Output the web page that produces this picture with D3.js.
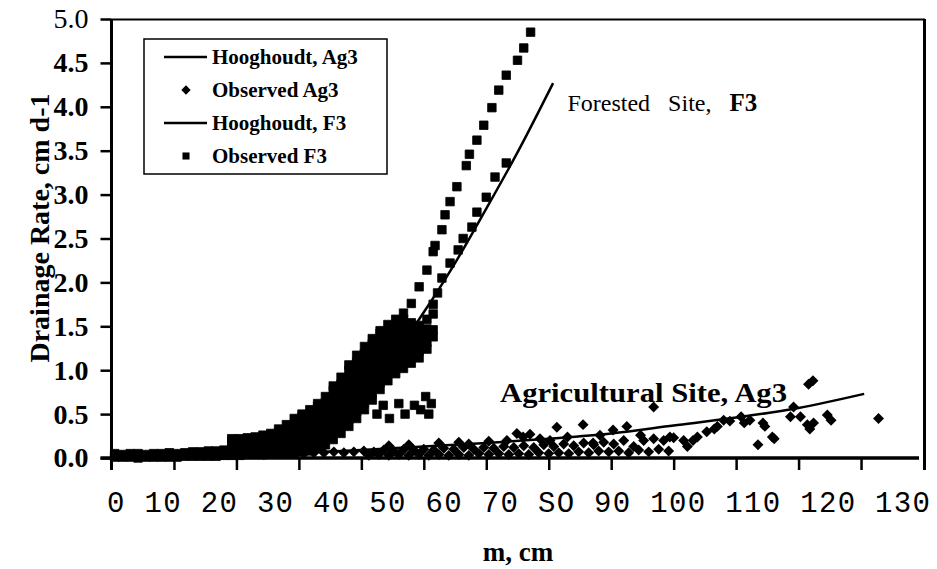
<!DOCTYPE html>
<html lang="en">
<head>
<meta charset="utf-8">
<title>Drainage rate vs water table height, Ag3 and F3</title>
<script src="https://d3js.org/d3.v7.min.js"></script>
<style>
  body { margin: 0; background: #fff; }
  text { font-family: "Liberation Serif", "Times New Roman", serif; fill: #000; }
</style>
</head>
<body>
<script>
// chart size
var w = 937, h = 569;

// axis ticks
var xTickValues = [0, 10, 20, 30, 40, 50, 60, 70, 80, 90, 100, 110, 120, 130];
var xTickLabels = ["0", "10", "20", "30", "40", "50", "60", "70", "SO", "90", "100", "110", "120", "130"];
var yTickValues = [0, 0.5, 1, 1.5, 2, 2.5, 3, 3.5, 4, 4.5, 5];

// Hooghoudt curves [m, rate]
var ag3Hooghoudt = [[0, 0], [20, 0.03], [40, 0.09], [60, 0.17], [70, 0.22], [80, 0.28], [90, 0.37],
  [100, 0.46], [110, 0.57], [120.5, 0.73]];
var f3Hooghoudt = [[0, 0], [10, 0.005], [15, 0.01], [20, 0.03], [25, 0.09], [30, 0.22], [35, 0.44],
  [40, 0.76], [45, 1.15], [50, 1.66], [55, 2.22], [60, 2.84], [65, 3.48], [70.7, 4.27]];

// observed F3, dense part read column by column: [m, [rates]]
var f3ObsColumns = [
  [0.5, [0.01, 0.05]], [1.75, [0.01, 0.04]], [3, [0.01, 0.05]], [4.25, [0, 0.05]], [5.5, [0.01, 0.04]],
  [6.75, [0.01, 0.05]], [8, [0.01, 0.05]], [9.25, [0.01, 0.06]], [10.5, [0.01, 0.05]], [11.75, [0.02, 0.06]],
  [13, [0.02, 0.07]], [14.25, [0.02, 0.07]], [15.5, [0.02, 0.08]], [16.75, [0.02, 0.08]], [18, [0.03, 0.09]],
  [19.25, [0.03, 0.11, 0.19, 0.22]], [20.5, [0.03, 0.11, 0.19, 0.22]], [21.75, [0.04, 0.12, 0.2, 0.23]],
  [23, [0.04, 0.12, 0.2, 0.24]], [24.25, [0.04, 0.12, 0.2, 0.26]], [25.5, [0.05, 0.13, 0.21, 0.28]],
  [26.75, [0.05, 0.13, 0.21, 0.29, 0.33]], [28, [0.06, 0.14, 0.22, 0.3, 0.38]],
  [29.25, [0.06, 0.14, 0.22, 0.3, 0.38, 0.45]], [30.5, [0.07, 0.15, 0.23, 0.31, 0.39, 0.47, 0.5]],
  [31.75, [0.08, 0.16, 0.24, 0.32, 0.4, 0.48, 0.55]], [33, [0.11, 0.19, 0.27, 0.35, 0.43, 0.51, 0.59, 0.62]],
  [34.25, [0.15, 0.23, 0.31, 0.39, 0.47, 0.55, 0.63, 0.7]],
  [35.5, [0.21, 0.29, 0.37, 0.45, 0.53, 0.61, 0.69, 0.77, 0.82]],
  [36.75, [0.28, 0.36, 0.44, 0.52, 0.6, 0.68, 0.76, 0.84, 0.92]],
  [38, [0.36, 0.44, 0.52, 0.6, 0.68, 0.76, 0.84, 0.92, 1.0, 1.06]],
  [39.25, [0.45, 0.53, 0.61, 0.69, 0.77, 0.85, 0.93, 1.01, 1.09, 1.17]],
  [40.5, [0.55, 0.63, 0.71, 0.79, 0.87, 0.95, 1.03, 1.11, 1.19, 1.27]],
  [41.75, [0.66, 0.74, 0.82, 0.9, 0.98, 1.06, 1.14, 1.22, 1.3, 1.36]],
  [43, [0.78, 0.86, 0.94, 1.02, 1.1, 1.18, 1.26, 1.34, 1.42, 1.45]],
  [44.25, [0.88, 0.96, 1.04, 1.12, 1.2, 1.28, 1.36, 1.44, 1.52]],
  [45.5, [0.96, 1.04, 1.12, 1.2, 1.28, 1.36, 1.44, 1.52, 1.58]],
  [46.75, [1.02, 1.1, 1.18, 1.26, 1.34, 1.42, 1.5, 1.58, 1.65]],
  [48, [1.08, 1.16, 1.24, 1.32, 1.4, 1.48, 1.54, 1.76]],
  [49.25, [1.14, 1.22, 1.3, 1.38, 1.45, 1.51, 1.95]],
  [50.5, [1.24, 1.32, 1.4, 1.47, 1.58, 2.14]],
  [51.5, [1.38, 1.46, 1.64, 1.75, 2.35]]
];

// observed F3, the two branches above 2 cm/d and the low group under the hump: [m, rate]
var f3ObsUpper = [[51.8, 2.42], [52.9, 2.6], [53.4, 2.77], [54.2, 2.92], [55.3, 3.09], [56.8, 3.33], [57.3, 3.46],
  [58.5, 3.62], [59.6, 3.79], [60.9, 3.99], [62, 4.19], [63.2, 4.36], [65, 4.53], [66, 4.67], [67.1, 4.85]];
var f3ObsLower = [[52.2, 1.88], [52.9, 2.05], [54.2, 2.22], [55.5, 2.37], [56.3, 2.5], [57.7, 2.63], [58.5, 2.8],
  [60, 2.97], [61.4, 3.2], [63.2, 3.36]];
var f3ObsLow = [[42.5, 0.5], [43.5, 0.6], [44.5, 0.45], [46, 0.62], [47, 0.5], [48.5, 0.6], [49.5, 0.55],
  [50.3, 0.7], [51.2, 0.62], [50.8, 0.5]];

// observed Ag3 [m, rate]
var ag3Observed = [
  [18, 0.04], [19.6, 0.05], [21.2, 0.04], [22.8, 0.05], [24.4, 0.04], [26, 0.05], [27.6, 0.05], [29.2, 0.06],
  [30.8, 0.05], [32.4, 0.06], [34, 0.06], [35.6, 0.07], [37.2, 0.06], [38.8, 0.07], [40.4, 0.08], [42, 0.07],
  [43.6, 0.09], [45.2, 0.08], [46.8, 0.1], [48.4, 0.09], [50, 0.1], [51.6, 0.09], [53.2, 0.11], [54.8, 0.1],
  [56.4, 0.12], [58, 0.1], [59.6, 0.12], [61.2, 0.11], [62.8, 0.13], [64.4, 0.12], [66, 0.14], [67.6, 0.12],
  [69.2, 0.15], [70.8, 0.13], [72.4, 0.16], [74, 0.14], [75.6, 0.17], [77.2, 0.15], [78.8, 0.18], [80.4, 0.16],
  [82, 0.2], [83.6, 0.13], [85.2, 0.2], [86.8, 0.22], [88.4, 0.2], [90, 0.23], [91.6, 0.2],
  [41.2, 0.03], [42.8, 0.04], [44.4, 0.03], [46, 0.04], [47.6, 0.03], [49.2, 0.04], [50.8, 0.03], [52.4, 0.04],
  [54, 0.03], [55.6, 0.04], [57.2, 0.03], [58.8, 0.05], [60.4, 0.04], [62, 0.05], [63.6, 0.04], [65.2, 0.05],
  [66.8, 0.04], [68.4, 0.06], [70, 0.05], [71.6, 0.06], [73.2, 0.05], [74.8, 0.07], [76.4, 0.06], [78, 0.08],
  [79.6, 0.07], [81.2, 0.08], [82.8, 0.06], [84.4, 0.09], [86, 0.07], [87.6, 0.1], [89.2, 0.08],
  [44.4, 0.14], [47.6, 0.15], [52.4, 0.17], [55.6, 0.18], [57.2, 0.16], [60.4, 0.19], [63.3, 0.2], [64.9, 0.28],
  [65.9, 0.24], [67, 0.27], [68.6, 0.22], [70.2, 0.2], [71.3, 0.35], [73, 0.24], [75.5, 0.38], [77.1, 0.17],
  [78.2, 0.26], [80.3, 0.32], [82.5, 0.36], [84.7, 0.26], [86.8, 0.58], [89.4, 0.24], [92.2, 0.13], [93.1, 0.2],
  [93.8, 0.24], [95.3, 0.3], [96.5, 0.33], [97, 0.36], [98, 0.43], [99, 0.42], [100.8, 0.47], [101.3, 0.4],
  [102.2, 0.43], [103.5, 0.15], [104.3, 0.4], [104.6, 0.36], [105.8, 0.24], [106.1, 0.22], [108.7, 0.47],
  [109.2, 0.58], [110.3, 0.47], [111.4, 0.38], [111.8, 0.33], [111.6, 0.84], [112.3, 0.88], [112.4, 0.4],
  [114.6, 0.49], [115.2, 0.43], [122.8, 0.45]
];

// legend entries
var legendLabels = ["Hooghoudt, Ag3", "Observed Ag3", "Hooghoudt, F3", "Observed F3"];
var legendKinds = ["line", "diamond", "line", "square"];

var svg = d3.select("body").append("svg")
  .attr("width", w)
  .attr("height", h);

var x = d3.scaleLinear().domain([0, 130]).range([111.5, 923.5]);
var y = d3.scaleLinear().domain([0, 5]).range([458, 19]);

var squareSym = d3.symbol().type(d3.symbolSquare).size(72);
var diamondSym = d3.symbol().type(d3.symbolSquare).size(60);

// flatten the F3 columns into points
var f3Points = [];
f3ObsColumns.forEach(function(c) {
  c[1].forEach(function(q) { f3Points.push([c[0], q]); });
});
f3Points = f3Points.concat(f3ObsUpper, f3ObsLower, f3ObsLow);

// observed F3 squares
svg.append("g").selectAll("path")
  .data(f3Points)
  .enter()
  .append("path")
  .attr("d", squareSym)
  .attr("transform", function(d) { return "translate(" + x(d[0]) + "," + y(d[1]) + ")"; })
  .attr("fill", "#000")
  .attr("stroke", "#000")
  .attr("stroke-width", 0.8);

// observed Ag3 diamonds
svg.append("g").selectAll("path")
  .data(ag3Observed)
  .enter()
  .append("path")
  .attr("d", diamondSym)
  .attr("transform", function(d) { return "translate(" + x(d[0]) + "," + y(d[1]) + ") rotate(45)"; })
  .attr("fill", "#000");

// Hooghoudt lines
var line = d3.line()
  .x(function(d) { return x(d[0]); })
  .y(function(d) { return y(d[1]); })
  .curve(d3.curveMonotoneX);

svg.append("path").datum(ag3Hooghoudt)
  .attr("d", line).attr("fill", "none").attr("stroke", "#000").attr("stroke-width", 2.5);
svg.append("path").datum(f3Hooghoudt)
  .attr("d", line).attr("fill", "none").attr("stroke", "#000").attr("stroke-width", 2.5);

// y axis ticks and labels
var yAxis = svg.append("g")
  .attr("transform", "translate(" + x(0) + ",0)")
  .call(d3.axisLeft(y).tickValues(yTickValues).tickSize(11).tickPadding(12)
    .tickFormat(d3.format(".1f")));
yAxis.select(".domain").remove();
yAxis.selectAll("line").attr("stroke", "#000").attr("stroke-width", 2.5);
yAxis.selectAll("text")
  .attr("font-family", "'Liberation Serif', 'Times New Roman', serif")
  .attr("font-size", 28)
  .attr("font-weight", function(d) { return d === 5 ? "normal" : "bold"; })
  .attr("fill", "#000");

// x axis ticks (labels are a typed row underneath, as in the original)
var xAxis = svg.append("g")
  .attr("transform", "translate(0," + y(0) + ")")
  .call(d3.axisBottom(x).tickValues(xTickValues.slice(1, -1)).tickSize(12).tickFormat(""));
xAxis.select(".domain").remove();
xAxis.selectAll("line").attr("stroke", "#000").attr("stroke-width", 2.5);

svg.append("text")
  .attr("x", x(0) - 4.5)
  .attr("y", 512)
  .attr("textLength", x(130) - x(0) + 11)
  .attr("lengthAdjust", "spacing")
  .style("font-family", "'Liberation Mono', 'DejaVu Sans Mono', monospace")
  .attr("font-size", 29)
  .text(xTickLabels.join(" "));

// frame
svg.append("line")
  .attr("x1", x(0)).attr("x2", x(0)).attr("y1", y(5)).attr("y2", 470)
  .attr("stroke", "#000").attr("stroke-width", 3);
svg.append("line")
  .attr("x1", x(0) - 11).attr("x2", 919).attr("y1", y(0)).attr("y2", y(0))
  .attr("stroke", "#000").attr("stroke-width", 3.5);
svg.append("line")
  .attr("x1", x(0)).attr("x2", 925).attr("y1", y(5) + 0.5).attr("y2", y(5) + 0.5)
  .attr("stroke", "#000").attr("stroke-width", 1.8);
svg.append("line")
  .attr("x1", 924.5).attr("x2", 924.5).attr("y1", y(5)).attr("y2", 470)
  .attr("stroke", "#000").attr("stroke-width", 3);

// axis titles
svg.append("text")
  .attr("transform", "translate(49,228) rotate(-90)")
  .attr("text-anchor", "middle")
  .attr("font-size", 28)
  .attr("font-weight", "bold")
  .text("Drainage Rate, cm d-1");

svg.append("text")
  .attr("x", 518)
  .attr("y", 561)
  .attr("text-anchor", "middle")
  .attr("font-size", 27)
  .attr("font-weight", "bold")
  .text("m, cm");

// site labels
var forest = svg.append("text")
  .attr("x", x(73))
  .attr("y", y(3.95))
  .attr("font-size", 24)
  .attr("word-spacing", 3)
  .attr("xml:space", "preserve");
forest.append("tspan").text("Forested  Site,  ");
forest.append("tspan").attr("font-weight", "bold").attr("font-size", 25).text("F3");

svg.append("text")
  .attr("x", x(62.2))
  .attr("y", y(0.64))
  .attr("font-size", 28)
  .attr("font-weight", "bold")
  .attr("textLength", 287)
  .attr("lengthAdjust", "spacingAndGlyphs")
  .text("Agricultural Site, Ag3");

// legend
var legend = svg.append("g");
legend.append("rect")
  .attr("x", 144).attr("y", 39).attr("width", 243).attr("height", 135)
  .attr("fill", "#fff").attr("stroke", "#000").attr("stroke-width", 1.5);

var rows = legend.selectAll("g.row")
  .data(legendLabels)
  .enter()
  .append("g")
  .attr("class", "row")
  .attr("transform", function(d, i) { return "translate(0," + (57 + i * 33) + ")"; });

rows.each(function(d, i) {
  var g = d3.select(this);
  var kind = legendKinds[i];
  if (kind === "line") {
    g.append("line").attr("x1", 164).attr("x2", 207).attr("y1", 0).attr("y2", 0)
      .attr("stroke", "#000").attr("stroke-width", 2.5);
  } else if (kind === "diamond") {
    g.append("path").attr("d", d3.symbol().type(d3.symbolSquare).size(44))
      .attr("transform", "translate(186,0) rotate(45)");
  } else {
    g.append("path").attr("d", d3.symbol().type(d3.symbolSquare).size(50))
      .attr("transform", "translate(186,0)");
  }
  g.append("text")
    .attr("x", 212)
    .attr("y", 7)
    .attr("font-size", 21)
    .attr("font-weight", "bold")
    .text(d);
});
</script>
</body>
</html>
